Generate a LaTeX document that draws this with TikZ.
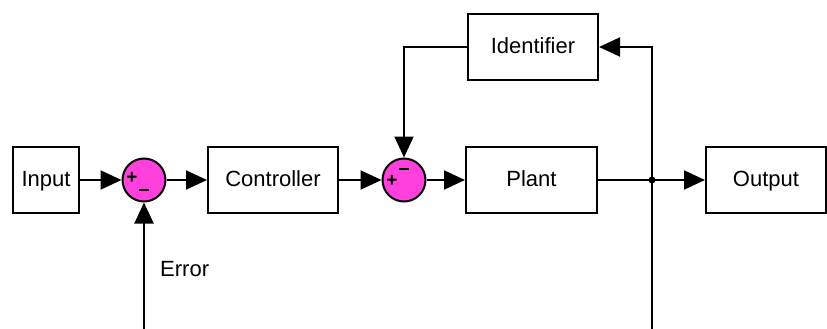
\documentclass[tikz,border=0pt]{standalone}
\usepackage{fontspec}
\setmainfont{Liberation Sans}
\usetikzlibrary{arrows.meta}
\definecolor{summag}{RGB}{255,64,220}
\begin{document}
\begin{tikzpicture}[x=1pt,y=-1pt,
  every node/.style={font=\fontsize{22}{26}\selectfont},
  blockbox/.style={draw,line width=2pt,minimum height=66pt,inner sep=0pt,text height=16pt,text depth=4pt},
  sumnode/.style={circle,draw,line width=2pt,fill=summag,minimum size=43pt,inner sep=0pt},
  plussign/.style={inner sep=0pt,font=\fontsize{19}{19}\selectfont\bfseries},
  minussign/.style={inner sep=0pt,minimum width=10pt,minimum height=2.2pt,fill=black},
  wire/.style={line width=2pt},
  arr/.style={wire,-{Triangle[length=21pt,width=19pt]}}]
\useasboundingbox (0,0) rectangle (827,329);
% blocks
\node[blockbox,minimum width=66pt]  (in)   at (46,180)    {Input};
\node[sumnode]                      (s1)   at (144,180)   {};
\node[blockbox,minimum width=130pt] (ctl)  at (273,180)   {Controller};
\node[sumnode]                      (s2)   at (404,180)   {};
\node[blockbox,minimum width=131pt] (pl)   at (531.5,180) {Plant};
\node[blockbox,minimum width=120pt] (out)  at (766,180)   {Output};
\node[blockbox,minimum width=130pt] (idf)  at (533,47)    {Identifier};
% signs on the summing junctions
\node[plussign]  (s1p) at (132,178) {+};
\node[minussign] (s1m) at (144,190) {};
\node[plussign]  (s2p) at (392,181) {+};
\node[minussign] (s2m) at (404,169) {};
% routing points
\coordinate (j)   at (652,180);
\coordinate (b1)  at (144,330);
\coordinate (b2)  at (652,330);
\coordinate (tr)  at (652,47);
\coordinate (tl)  at (404,47);
% forward path
\draw[arr] (in) -- (s1);
\draw[arr] (s1) -- (ctl);
\draw[arr] (ctl) -- (s2);
\draw[arr] (s2) -- (pl);
\draw[wire] (pl) -- (j);
\draw[arr] (j) -- (out);
\fill (j) circle (3.5pt);
% identifier loop
\draw[arr] (b2) -- (tr) -- (idf);
\draw[arr] (idf.west) -- (tl) -- (s2);
% error feedback
\draw[arr] (b1) -- (s1);
\node[anchor=west,inner sep=0pt] (err) at (160,269) {Error};
\end{tikzpicture}
\end{document}
